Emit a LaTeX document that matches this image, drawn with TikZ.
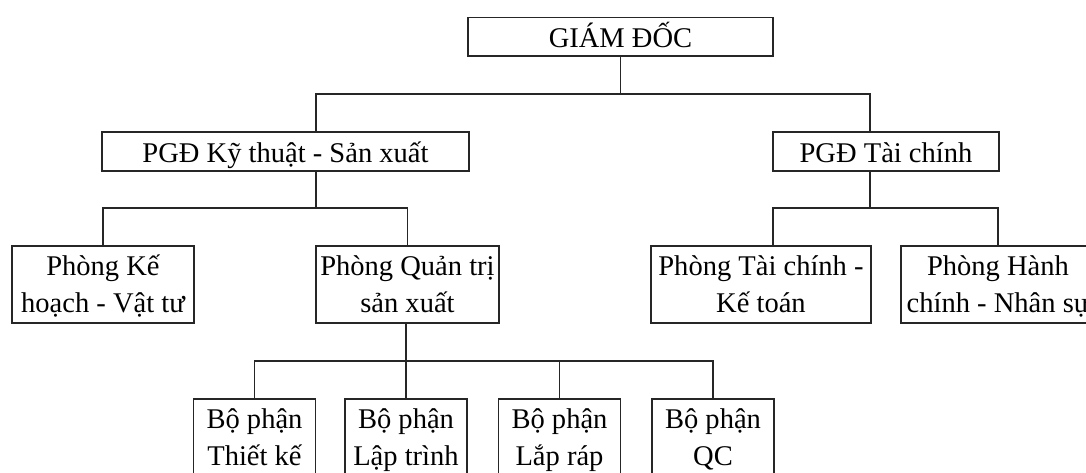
\documentclass[tikz,border=0pt]{standalone}
\usepackage{fontspec}
\setmainfont{Liberation Serif}
\begin{document}
\begin{tikzpicture}[x=0.75pt,y=-0.75pt]
\tikzset{
  box/.style={draw=black!85, line width=1.3pt, fill=white, inner sep=0pt,
    align=flush center, font=\fontsize{21.4pt}{28pt}\selectfont},
  one/.style={box, minimum height=29pt, text height=22.5pt, text depth=6.5pt},
  two/.style={box, text width=#1, text height=21.8pt, text depth=35.7pt},
  link/.style={draw=black!85, line width=1.3pt}
}
\useasboundingbox (0,0) rectangle (1086,472);
\clip (0,0) rectangle (1086,472);
\fill[white] (0,0) rectangle (1086,472);

% top management
\node[one, minimum width=228.75pt] (gd) at (620.5,36.9) {GIÁM ĐỐC};
\node[one, minimum width=275.25pt] (kt) at (285.5,151.4) {PGĐ Kỹ thuật - Sản xuất};
\node[one, minimum width=169.5pt] (tc) at (886,151.4) {PGĐ Tài chính};

% departments
\node[two=136.5pt] (kh) at (103,284.4) {Phòng Kế\\hoạch - Vật tư};
\node[two=137.25pt] (qt) at (407.5,284.4) {Phòng Quản trị\\sản xuất};
\node[two=165pt] (tk) at (761,284.4) {Phòng Tài chính -\\Kế toán};
\node[two=145.5pt] (hc) at (998,284.4) {Phòng Hành\\chính - Nhân sự};

% production units
\node[two=91.5pt] (tke) at (254.5,437.5) {Bộ phận\\Thiết kế};
\node[two=91.5pt] (ltr) at (406,437.5) {Bộ phận\\Lập trình};
\node[two=91.5pt] (lra) at (559.5,437.5) {Bộ phận\\Lắp ráp};
\node[two=91.5pt] (qc) at (713,437.5) {Bộ phận\\QC};

% junction points of the connectors
\coordinate (j1) at (620.5,94.3);
\coordinate (ktT) at (316,132.1);
\coordinate (tcT) at (870,132.1);
\coordinate (ktB) at (316,170.7);
\coordinate (j2) at (316,208.3);
\coordinate (tcB) at (870,170.7);
\coordinate (j3) at (870,208.3);
\coordinate (tkT) at (773,246.1);
\coordinate (qtB) at (406,322.7);
\coordinate (j4) at (406,360.7);

\draw[link] (gd.south) -- (j1);
\draw[link] (ktT) |- (j1) -| (tcT);
\draw[link] (ktB) -- (j2);
\draw[link] (kh.north) |- (j2) -| (qt.north);
\draw[link] (tcB) -- (j3);
\draw[link] (tkT) |- (j3) -| (hc.north);
\draw[link] (qtB) -- (ltr.north);
\draw[link] (tke.north) |- (j4) -| (qc.north);
\draw[link] (lra.north) -- (lra.north |- j4);
\end{tikzpicture}
\end{document}
